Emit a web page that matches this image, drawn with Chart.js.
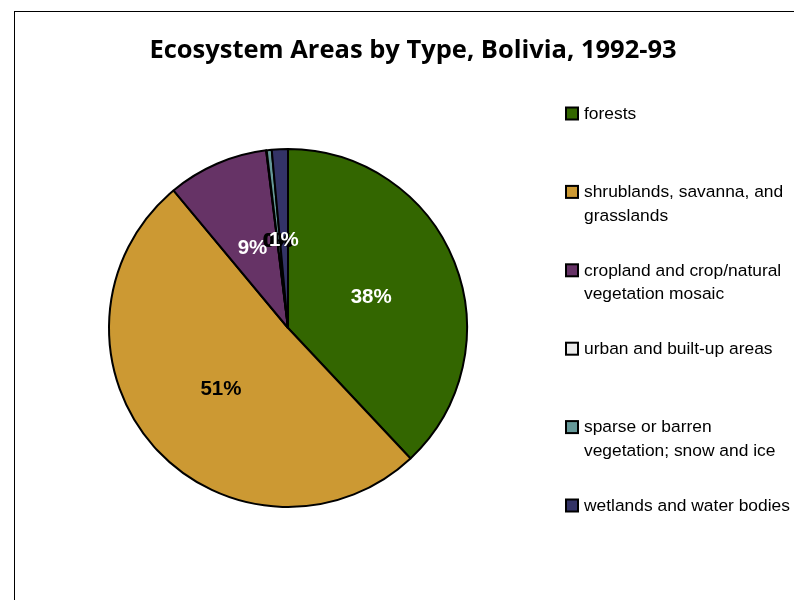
<!DOCTYPE html>
<html>
<head>
<meta charset="utf-8">
<script src="https://cdn.jsdelivr.net/npm/chart.js@4.4.1/dist/chart.umd.min.js"></script>
<style>
  body { margin: 0; background: #fff; }
  #wrap { position: relative; width: 794px; height: 600px; overflow: hidden; }
  #frame { position: absolute; left: 14px; top: 11px; width: 900px; height: 700px; border-left: 1.5px solid #000; border-top: 1.5px solid #000; }
  canvas { position: absolute; left: 0; top: 0; }
</style>
</head>
<body>
<div id="wrap">
  <div id="frame"></div>
  <canvas id="myChart" width="794" height="600"></canvas>
</div>
<script>
const chartTitle = 'Ecosystem Areas by Type, Bolivia, 1992-93';

const categories = [
  ['forests'],
  ['shrublands, savanna, and', 'grasslands'],
  ['cropland and crop/natural', 'vegetation mosaic'],
  ['urban and built-up areas'],
  ['sparse or barren', 'vegetation; snow and ice'],
  ['wetlands and water bodies']
];

// percent of total area
const areaShares = [38.0, 50.95, 9.1, 0.05, 0.45, 1.45];

const sliceColors = ['#336600', '#cc9933', '#663366', '#eaeaea', '#669999', '#333366'];
const labelColors = ['#fff', '#000', '#fff', '#000', '#000', '#fff'];

// title, slice percentages and side legend drawn by hand
const decorations = {
  id: 'decorations',
  afterDatasetsDraw: (chart) => {
    const ctx = chart.ctx;
    const meta = chart.getDatasetMeta(0);
    const data = chart.data.datasets[0].data;
    const total = data.reduce((a, b) => a + b, 0);

    ctx.save();
    ctx.textAlign = 'center';
    ctx.textBaseline = 'middle';
    ctx.font = 'bold 20.5px "Liberation Sans", Arial, sans-serif';
    meta.data.forEach((arc, i) => {
      const p = arc.getProps(['x', 'y', 'startAngle', 'endAngle', 'outerRadius']);
      const mid = (p.startAngle + p.endAngle) / 2;
      const r = p.outerRadius * 0.5;
      ctx.fillStyle = labelColors[i];
      ctx.fillText(Math.round(data[i] / total * 100) + '%', p.x + Math.cos(mid) * r, p.y + Math.sin(mid) * r + 2);
    });

    ctx.fillStyle = '#000';
    ctx.font = 'bold 25.5px "Open Sans", sans-serif';
    ctx.fillText(chartTitle, 413, 51);

    ctx.textAlign = 'left';
    ctx.font = '17.4px "Liberation Sans", Arial, sans-serif';
    chart.data.labels.forEach((lines, i) => {
      const y = 114 + i * 78.4;
      ctx.fillStyle = sliceColors[i];
      ctx.fillRect(566, y - 6.5, 12, 12);
      ctx.strokeStyle = '#000';
      ctx.lineWidth = 2;
      ctx.strokeRect(566, y - 6.5, 12, 12);
      ctx.fillStyle = '#000';
      lines.forEach((line, j) => ctx.fillText(line, 584, y + j * 23.5));
    });
    ctx.restore();
  }
};

const generateChart = () => {
  const ctx = document.getElementById('myChart').getContext('2d');
  return new Chart(ctx, {
    type: 'pie',
    data: {
      labels: categories,
      datasets: [{
        data: areaShares,
        backgroundColor: sliceColors,
        borderColor: '#000',
        borderWidth: 2
      }]
    },
    options: {
      responsive: false,
      animation: false,
      layout: { padding: { left: 108, right: 326, top: 148, bottom: 92 } },
      plugins: {
        legend: { display: false },
        title: { display: false },
        tooltip: { enabled: false }
      }
    },
    plugins: [decorations]
  });
};

generateChart();
</script>
</body>
</html>
